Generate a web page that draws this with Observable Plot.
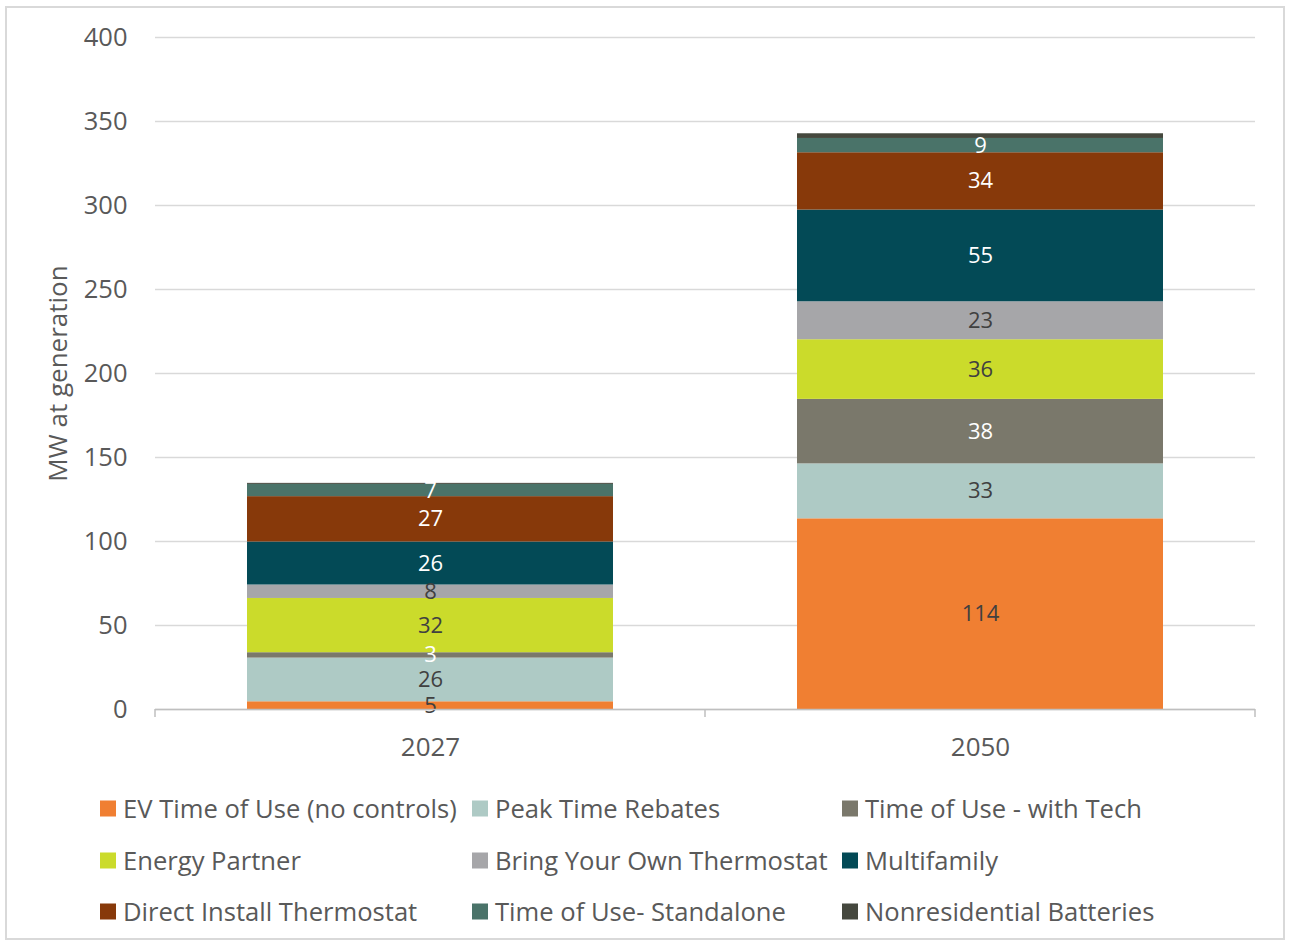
<!DOCTYPE html>
<html>
<head>
<meta charset="utf-8">
<script src="https://cdn.jsdelivr.net/npm/d3@7"></script>
<script src="https://cdn.jsdelivr.net/npm/@observablehq/plot@0.6"></script>
<style>
  html, body { margin: 0; padding: 0; background: #fff; }
  #wrap { position: relative; width: 1293px; height: 947px; overflow: hidden; font-family: "Open Sans", Lato, sans-serif; }
  #frame { position: absolute; left: 5px; top: 6px; width: 1280px; height: 934px; border: 2px solid #d9d9d9; box-sizing: border-box; }
  #chart { position: absolute; left: 0; top: 0; }
  #legend { position: absolute; left: 0; top: 0; width: 1293px; height: 947px; pointer-events: none; }
  .li { position: absolute; display: flex; align-items: center; font-size: 25.6px; color: #595959; white-space: nowrap; transform: translateY(-50%); }
  .sw { width: 16px; height: 16px; margin-right: 7px; flex: none; }
</style>
</head>
<body>
<div id="wrap">
  <div id="frame"></div>
  <div id="chart"></div>
  <div id="legend"></div>
</div>
<script>
const years = ["2027", "2050"];
const series = [
  "EV Time of Use (no controls)",
  "Peak Time Rebates",
  "Time of Use - with Tech",
  "Energy Partner",
  "Bring Your Own Thermostat",
  "Multifamily",
  "Direct Install Thermostat",
  "Time of Use- Standalone",
  "Nonresidential Batteries"
];
const values2027 = [4.6, 26.0, 3.2, 32.3, 8.0, 25.6, 27.0, 7.3, 0.6];
const values2050 = [113.5, 32.7, 38.4, 35.5, 22.6, 54.6, 34.1, 8.5, 2.8];
const colors = ["#f07f32", "#aecac5", "#7a786b", "#cbdb2b", "#a6a6a9", "#034a56", "#87390a", "#4a7369", "#45483e"];
const whiteLabelSeries = ["Time of Use - with Tech", "Multifamily", "Direct Install Thermostat", "Time of Use- Standalone"];
const unlabeledSeries = ["Nonresidential Batteries"];
const yTicks = [0, 50, 100, 150, 200, 250, 300, 350, 400];

const data = [];
years.forEach((yr, j) => {
  const vals = j === 0 ? values2027 : values2050;
  series.forEach((s, i) => data.push({year: yr, series: s, value: vals[i]}));
});

const labelText = (wantWhite) => d =>
  unlabeledSeries.includes(d.series) ? "" :
  (whiteLabelSeries.includes(d.series) === wantWhite ? String(Math.round(d.value)) : "");

const plot = Plot.plot({
  width: 1293,
  height: 780,
  marginTop: 37,
  marginBottom: 71,
  marginLeft: 155,
  marginRight: 38,
  style: {fontFamily: "'Open Sans', Lato, sans-serif", fontSize: "25.5px", color: "#595959", background: "transparent", overflow: "visible"},
  x: {domain: years, paddingInner: 0.335, paddingOuter: 0.1675, label: null},
  y: {domain: [0, 400], label: null},
  color: {domain: series, range: colors},
  marks: [
    Plot.gridY(yTicks, {stroke: "#d9d9d9", strokeOpacity: 1, strokeWidth: 1.5}),
    Plot.axisY(yTicks, {tickSize: 0, tickPadding: 28, label: null, fontSize: 25.5}),
    Plot.axisX({tickSize: 0, tickPadding: 28, label: null, fontSize: 26}),
    Plot.barY(data, Plot.stackY({x: "year", y: "value", fill: "series", order: null})),
    Plot.text(data, Plot.stackY({x: "year", y: "value", order: null, text: labelText(false), fill: "#404040", fontSize: 22})),
    Plot.text(data, Plot.stackY({x: "year", y: "value", order: null, text: labelText(true), fill: "#ffffff", fontSize: 22})),
    Plot.ruleY([0], {stroke: "#bfbfbf", strokeWidth: 1.5}),
    Plot.text(["MW at generation"], {frameAnchor: "left", textAnchor: "middle", dx: -97, rotate: -90, fontSize: 26, fill: "#595959"})
  ]
});
document.getElementById("chart").appendChild(plot);

// category boundary tick marks below the axis, positioned from Plot's own scales
const xs = plot.scale("x");
const ys = plot.scale("y");
const y0 = ys.apply(0);
const bounds = [];
years.forEach((yr, i) => {
  const c = xs.apply(yr) + xs.bandwidth / 2;
  if (i === 0) bounds.push(c - xs.step / 2);
  bounds.push(c + xs.step / 2);
});
d3.select(plot).append("g")
  .selectAll("line").data(bounds).join("line")
  .attr("x1", d => d).attr("x2", d => d)
  .attr("y1", y0).attr("y2", y0 + 8)
  .attr("stroke", "#bfbfbf").attr("stroke-width", 1.5);

// legend
const legendCols = [100, 472, 842];
const legendRows = [808, 860, 911];
const leg = document.getElementById("legend");
series.forEach((s, i) => {
  const el = document.createElement("div");
  el.className = "li";
  el.style.left = legendCols[i % 3] + "px";
  el.style.top = legendRows[Math.floor(i / 3)] + "px";
  const sw = document.createElement("span");
  sw.className = "sw";
  sw.style.background = colors[i];
  el.appendChild(sw);
  el.appendChild(document.createTextNode(s));
  leg.appendChild(el);
});
</script>
</body>
</html>
